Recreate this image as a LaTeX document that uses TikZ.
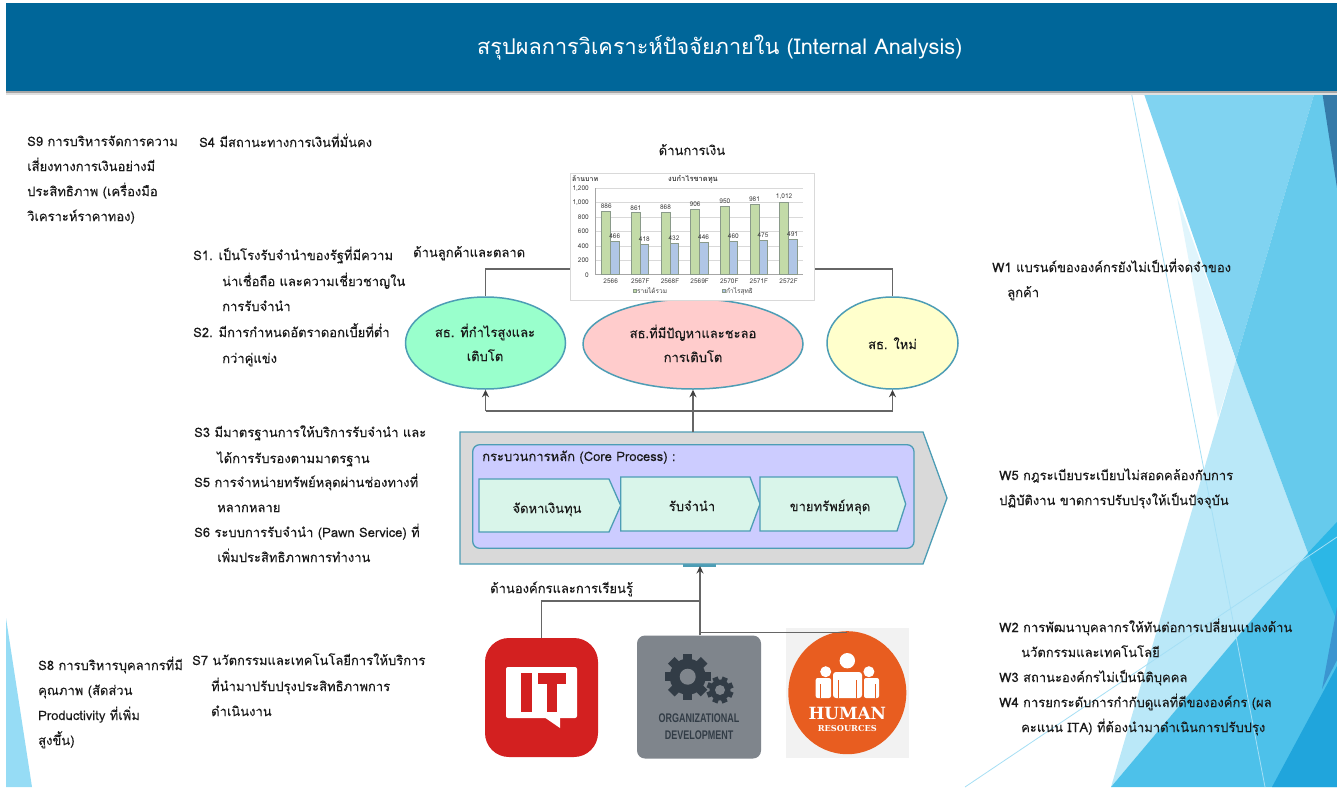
\documentclass[tikz,border=0pt]{standalone}
\usepackage{fontspec}
\usetikzlibrary{arrows.meta,shapes.geometric}
\setmainfont[Script=Thai,FakeBold=0.12]{Loma}
\newfontfamily\titlefont[Script=Thai]{Loma}
\newfontfamily\condfont[FakeStretch=0.72]{Liberation Sans}
\newfontfamily\slabfont{DejaVu Serif}
\definecolor{hdr}{HTML}{006699}
\definecolor{teal}{HTML}{4D9DB5}
\definecolor{txt}{HTML}{1A1A1A}
\definecolor{lnk}{HTML}{666666}
\definecolor{chevf}{HTML}{D9F5EA}
\definecolor{fa}{HTML}{80D3F1}
\definecolor{fb}{HTML}{E0F5FC}
\definecolor{fc}{HTML}{BAE8F8}
\definecolor{fd}{HTML}{66CAEC}
\definecolor{fe}{HTML}{4DC1EA}
\definecolor{ff}{HTML}{2CB7E6}
\definecolor{fg}{HTML}{20A5DC}
\definecolor{fh}{HTML}{3B95D0}
\definecolor{fi}{HTML}{357AA8}
\definecolor{fl}{HTML}{A5DFF5}
\definecolor{fj}{HTML}{96DCF5}
\definecolor{bargreen}{HTML}{C3DBA8}
\definecolor{barblue}{HTML}{B0C6E6}
\definecolor{bargrey}{HTML}{8A9A8A}
\definecolor{gearc}{HTML}{323C46}
\definecolor{odf}{HTML}{7F858C}
\definecolor{itred}{HTML}{D32020}
\definecolor{hrorange}{HTML}{E85D20}
\definecolor{mint}{HTML}{99FFCC}
\definecolor{rosef}{HTML}{FFCCCC}
\definecolor{lemon}{HTML}{FFFFCC}
\definecolor{lilac}{HTML}{CCCCFF}
\definecolor{tipc}{HTML}{404040}
\tikzset{
 tx/.style={anchor=base west,inner sep=0,text=txt,font=\fontsize{13}{16}\selectfont},
 ell/.style={ellipse,draw=teal,line width=1.5pt,inner sep=0},
 chev/.style={draw=teal,line width=1.3pt,fill=chevf},
 lbl/.style={anchor=base,inner sep=0,text=txt,font=\fontsize{13}{16}\selectfont},
 link/.style={draw=lnk,line width=1.1pt},
 arr/.style={link,-{Stealth[length=7.5pt,width=7pt,color=tipc]}},
 ctick/.style={inner sep=0,font=\titlefont\fontsize{6.5}{7}\selectfont,text=black!75},
 cval/.style={inner sep=0,font=\titlefont\fontsize{6.5}{7}\selectfont,text=black!75},
 bgline/.style={draw=fl,line width=0.8pt},
}
\begin{document}
\begin{tikzpicture}[x=1pt,y=-1pt]
\useasboundingbox (0,0) rectangle (1337,787);
\fill[white] (0,0) rectangle (1337,787);
% background facets
\fill[fa] (1143,91)--(1315,91)--(1236,360)--cycle;
\fill[fb] (1177,197)--(1236,360)--(1218,418)--cycle;
\fill[fc] (1236,360)--(1308,553)--(1111,787)--cycle;
\fill[fd] (1315,91)--(1337,91)--(1337,621)--(1308,553)--(1236,360)--cycle;
\fill[fe] (1308,553)--(1337,522)--(1337,787)--(1111,787)--cycle;
\fill[ff] (1308,553)--(1337,522)--(1337,621)--cycle;
\fill[fg] (1272,787)--(1337,666)--(1337,787)--cycle;
\fill[fh] (1337,607)--(1322,689)--(1337,660)--cycle;
\fill[fi] (1322,91)--(1337,91)--(1337,188)--cycle;
\draw[bgline] (1131,91)--(1265,787);
\draw[bgline] (965,787)--(1337,537);
\fill[fj] (6,618)--(6,787)--(32,787)--cycle;
% header
\fill[black!12] (6,91) rectangle (1337,95);
\fill[black!35] (6,91) rectangle (1337,92.5);
\node[fill=hdr,anchor=north west,minimum width=1331,minimum height=88,inner sep=0] (header) at (6,3) {};
\node[anchor=base west,inner sep=0,text=white,font=\titlefont\fontsize{21.7}{26}\selectfont] (title) at (477,54) {สรุปผลการวิเคราะห์ปัจจัยภายใน (Internal Analysis)};
% left text
\node[tx] (s9a) at (27,146) {S9 การบริหารจัดการความ};
\node[tx] (s9b) at (27,171) {เสี่ยงทางการเงินอย่างมี};
\node[tx] (s9c) at (27,196) {ประสิทธิภาพ (เครื่องมือ};
\node[tx] (s9d) at (27,221) {วิเคราะห์ราคาทอง)};
\node[tx] (s4) at (199,147) {S4 มีสถานะทางการเงินที่มั่นคง};
\node[tx] (s1a) at (193,260) {S1. เป็นโรงรับจำนำของรัฐที่มีความ};
\node[tx] (s1b) at (222,286) {น่าเชื่อถือ และความเชี่ยวชาญใน};
\node[tx] (s1c) at (222,311) {การรับจำนำ};
\node[tx] (s2a) at (193,337) {S2. มีการกำหนดอัตราดอกเบี้ยที่ต่ำ};
\node[tx] (s2b) at (222,363) {กว่าคู่แข่ง};
\node[tx] (s3a) at (194,437) {S3 มีมาตรฐานการให้บริการรับจำนำ และ};
\node[tx] (s3b) at (217,463) {ได้การรับรองตามมาตรฐาน};
\node[tx] (s5a) at (194,487) {S5 การจำหน่ายทรัพย์หลุดผ่านช่องทางที่};
\node[tx] (s5b) at (217,512) {หลากหลาย};
\node[tx] (s6a) at (194,537) {S6 ระบบการรับจำนำ (Pawn Service) ที่};
\node[tx] (s6b) at (217,562) {เพิ่มประสิทธิภาพการทำงาน};
\node[tx] (s7a) at (192,665) {S7 นวัตกรรมและเทคโนโลยีการให้บริการ};
\node[tx] (s7b) at (211,691) {ที่นำมาปรับปรุงประสิทธิภาพการ};
\node[tx] (s7c) at (211,716) {ดำเนินงาน};
\node[tx] (s8a) at (38,670) {S8 การบริหารบุคลากรที่มี};
\node[tx] (s8b) at (38,695) {คุณภาพ (สัดส่วน};
\node[tx] (s8c) at (38,720) {Productivity ที่เพิ่ม};
\node[tx] (s8d) at (38,745) {สูงขึ้น)};
% right text
\node[tx] (w1a) at (992,272) {W1 แบรนด์ขององค์กรยังไม่เป็นที่จดจำของ};
\node[tx] (w1b) at (1007,297) {ลูกค้า};
\node[tx] (w5a) at (999,480) {W5 กฎระเบียบระเบียบไม่สอดคล้องกับการ};
\node[tx] (w5b) at (999,505) {ปฏิบัติงาน ขาดการปรับปรุงให้เป็นปัจจุบัน};
\node[tx] (w2a) at (999,632) {W2 การพัฒนาบุคลากรให้ทันต่อการเปลี่ยนแปลงด้าน};
\node[tx] (w2b) at (1021,657) {นวัตกรรมและเทคโนโลยี};
\node[tx] (w3) at (999,682) {W3 สถานะองค์กรไม่เป็นนิติบุคคล};
\node[tx] (w4a) at (999,707) {W4 การยกระดับการกำกับดูแลที่ดีขององค์กร (ผล};
\node[tx] (w4b) at (1021,732) {คะแนน ITA) ที่ต้องนำมาดำเนินการปรับปรุง};
% labels
\node[lbl] (lfin) at (692,155) {ด้านการเงิน};
\node[tx] (lcus) at (413,257) {ด้านลูกค้าและตลาด};
\node[tx] (lorg) at (490,593) {ด้านองค์กรและการเรียนรู้};
% ellipses
\node[ell,fill=mint,minimum width=160,minimum height=92] (e1) at (485.5,343) {};
\node[ell,fill=rosef,minimum width=220,minimum height=90] (e2) at (693,344) {};
\node[ell,fill=lemon,minimum width=131,minimum height=92] (e3) at (892.5,343) {};
\node[lbl] (e1a) at (485,337) {สธ. ที่กำไรสูงและ};
\node[lbl] (e1b) at (485,361) {เติบโต};
\node[lbl] (e2a) at (693,338) {สธ.ที่มีปัญหาและชะลอ};
\node[lbl] (e2b) at (693,362) {การเติบโต};
\node[lbl] (e3a) at (892.5,349) {สธ. ใหม่};
% upper connectors
\coordinate (chl) at (570,269);
\coordinate (chr) at (814,269);
\draw[link] (e1.north) |- (chl);
\draw[link] (e3.north) |- (chr);
\coordinate (busl) at (485.5,411);
\coordinate (busm) at (693,411);
\coordinate (busr) at (892.5,411);
\draw[link] (busl) -- (busr);
\draw[arr] (busl) -- (e1.south);
\draw[arr] (busr) -- (e3.south);
% chart
\node[draw=black!15,fill=white,anchor=north west,minimum width=244,minimum height=127,inner sep=0] (chart) at (570,173) {};
\foreach \v in {200,400,...,1200}{ \draw[black!15,line width=0.4pt] (595,{274.7-\v*0.072}) -- (803,{274.7-\v*0.072}); }
\draw[black!35,line width=0.5pt] (595,188.3) -- (595,274.7) -- (803,274.7);
\foreach \i/\g/\b/\l/\vg in {0/886/466/2566/886,1/861/418/2567F/861,2/868/432/2568F/868,3/906/446/2569F/906,4/950/460/2570F/950,5/981/475/2571F/981,6/1012/491/2572F/{1,012}}{
 \pgfmathsetmacro{\xx}{601.7+\i*29.65}
 \draw[bargrey,fill=bargreen,line width=0.5pt] (\xx,274.7) rectangle (\xx+9,{274.7-\g*0.072});
 \draw[bargrey,fill=barblue,line width=0.5pt] (\xx+9,274.7) rectangle (\xx+17.3,{274.7-\b*0.072});
 \node[cval] at (\xx+4.5,{274.7-\g*0.072-5}) {\vg};
 \node[cval] at (\xx+13,{274.7-\b*0.072-5}) {\b};
 \node[ctick] at (\xx+9,281.5) {\l};
}
\foreach \v/\t in {0/0,200/200,400/400,600/600,800/800,1000/{1,000},1200/{1,200}}{ \node[ctick,anchor=east] at (589,{274.7-\v*0.072}) {\t}; }
\node[ctick,anchor=west,font=\titlefont\fontsize{7}{8}\selectfont\bfseries] at (572,179) {ล้านบาท};
\node[ctick,font=\titlefont\fontsize{7.5}{8}\selectfont\bfseries] at (693,179) {งบกำไรขาดทุน};
\fill[bargreen,draw=bargrey,line width=0.3pt] (633,289.5) rectangle (636,292.5);
\node[ctick,anchor=west] at (637,291) {รายได้รวม};
\fill[barblue,draw=bargrey,line width=0.3pt] (722,289.5) rectangle (725,292.5);
\node[ctick,anchor=west] at (726,291) {กำไรสุทธิ};
% process
\fill[teal] (683,563) rectangle (716,566.5);
\draw[draw=teal,line width=1.3pt,fill=black!15] (460,432)--(923,432)--(947,498)--(923,564)--(460,564)--cycle;
\coordinate (ptop) at (693,432);
\coordinate (pbot) at (700,566);
\draw[link] (ptop) -- (busm);
\draw[arr] (busm) -- (e2.south);
\draw[draw=teal,line width=1.3pt,fill=lilac,rounded corners=7] (472.7,444.7) rectangle (914,548.3);
\node[tx] (core) at (482,461) {กระบวนการหลัก (Core Process) :};
\draw[chev] (479,479)--(609,479)--(620.7,505.5)--(609,532)--(479,532)--cycle;
\draw[chev] (620.7,477)--(750,477)--(760,504)--(750,531)--(620.7,531)--cycle;
\draw[chev] (760,477)--(897,477)--(905.7,504)--(897,531)--(760,531)--cycle;
\node[lbl] (p1) at (547,513) {จัดหาเงินทุน};
\node[lbl] (p2) at (692,511) {รับจำนำ};
\node[lbl] (p3) at (830,511) {ขายทรัพย์หลุด};
% icons
\node[fill=itred,rounded corners=24,minimum width=113,minimum height=119,inner sep=0] (it) at (541.5,697.5) {};
\fill[white,rounded corners=2] (506,667) rectangle (577,718);
\fill[white] (544,717)--(560,728)--(560,717)--cycle;
\fill[itred] (520.7,673) rectangle (532.3,712);
\fill[itred] (538,673) rectangle (566,683.5);
\fill[itred] (547,673) rectangle (557,712);
\node[fill=odf,rounded corners=8,minimum width=124,minimum height=123,inner sep=0] (od) at (699,697) {};
\foreach \a in {0,45,...,315}{ \fill[gearc,rotate around={\a:(687.7,676.7)}] (683,653.5) rectangle (692.4,665); }
\fill[gearc] (687.7,676.7) circle (18);
\fill[odf] (687.7,676.7) circle (8);
\foreach \a in {0,45,...,315}{ \fill[gearc,rotate around={\a+22:(720,690)}] (717.2,676.5) rectangle (722.8,684); }
\fill[gearc] (720,690) circle (10.5);
\fill[odf] (720,690) circle (5);
\node[inner sep=0,text=gearc,font=\condfont\bfseries\fontsize{12.5}{14}\selectfont] (od1) at (699,718) {ORGANIZATIONAL};
\node[inner sep=0,text=gearc,font=\condfont\bfseries\fontsize{12.5}{14}\selectfont] (od2) at (699,735.5) {DEVELOPMENT};
\fill[black!5] (785.7,628.3) rectangle (909,757.7);
\node[ellipse,fill=hrorange,minimum width=118,minimum height=123,inner sep=0] (hr) at (847.3,692.7) {};
\fill[white] (847.3,660.7) circle (7.7);
\fill[white,rounded corners=3] (833,672) rectangle (862,698);
\fill[white] (825.7,671.7) circle (5.5) (868.9,671.7) circle (5.5);
\fill[white,rounded corners=2] (815.7,678) rectangle (831,698);
\fill[white,rounded corners=2] (864,678) rectangle (879,698);
\draw[hrorange,line width=0.6pt] (838.5,680)--(838.5,698) (856.5,680)--(856.5,698) (820,684)--(820,698) (875,684)--(875,698);
\node[inner sep=0,text=white,font=\slabfont\bfseries\fontsize{16.8}{18}\selectfont] (hr1) at (847.3,713) {HUMAN};
\node[inner sep=0,text=white,font=\slabfont\bfseries\fontsize{8.2}{10}\selectfont] (hr2) at (847.3,728.7) {RESOURCES};
% lower connectors
\coordinate (busb) at (700,601);
\coordinate (hrj) at (700,632.5);
\draw[link] (it.north) |- (busb);
\draw[arr] (od.north -| pbot) -- (pbot);
\draw[link] (hrj) -- (hrj -| hr.north);
\end{tikzpicture}
\end{document}
